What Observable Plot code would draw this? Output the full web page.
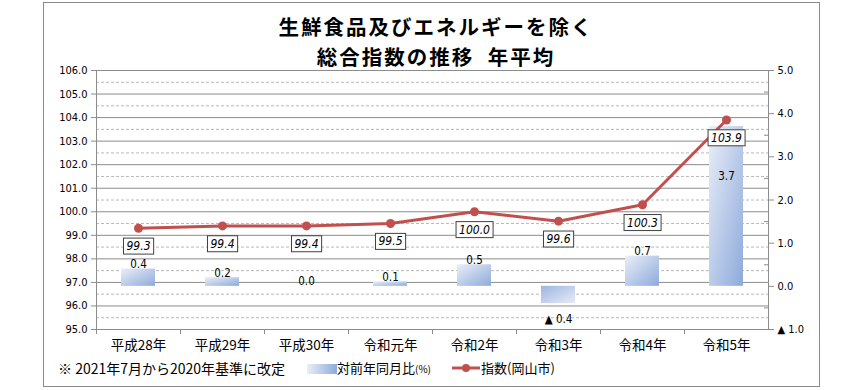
<!DOCTYPE html>
<html><head><meta charset="utf-8">
<script src="https://cdn.jsdelivr.net/npm/d3@7"></script>
<script src="https://cdn.jsdelivr.net/npm/@observablehq/plot@0.6"></script>
<style>
body{margin:0;background:#fff;}
#wrap{position:relative;width:862px;height:390px;overflow:hidden;font-family:"Noto Sans CJK JP",sans-serif;color:#000;}
#frame{position:absolute;left:43px;top:2px;width:777px;height:385px;border:1px solid #8a8a8a;box-sizing:border-box;}
.title{position:absolute;left:5px;width:862px;text-align:center;font-weight:700;font-size:20.5px;line-height:30px;letter-spacing:2px;white-space:nowrap;}
.layer{position:absolute;left:0;top:0;}
.lg{position:absolute;top:359px;font-size:13px;line-height:18px;white-space:nowrap;}
</style>
</head><body>
<div id="wrap">
  <div id="frame"></div>
  <div class="title" style="top:11px;">生鮮食品及びエネルギーを除く</div>
  <div class="title" style="top:41px;">総合指数の推移&nbsp;&nbsp;年平均</div>
  <div id="layerA" class="layer"></div>
  <div id="layerB" class="layer"></div>
  <div id="layerC" class="layer"></div>
  <div class="lg" style="left:58px;font-size:14px;">※ 2021年7月から2020年基準に改定</div>
  <div class="lg" style="left:307px;top:364px;width:30px;height:10px;background:linear-gradient(to right,#e9eef8,#8eaadb);"></div>
  <div class="lg" style="left:337px;">対前年同月比<span style="font-size:10px;">(%)</span></div>
  <svg class="lg" style="left:452px;top:362px;" width="28" height="12"><line x1="0" y1="6" x2="28" y2="6" stroke="#C0504D" stroke-width="3"/><circle cx="14" cy="6" r="4" fill="#C0504D"/></svg>
  <div class="lg" style="left:481px;">指数(岡山市)</div>
</div>
<script>
const categories = ["平成28年","平成29年","平成30年","令和元年","令和2年","令和3年","令和4年","令和5年"];
const indexValues = [99.3, 99.4, 99.4, 99.5, 100.0, 99.6, 100.3, 103.9];
const yoyValues = [0.4, 0.2, 0.0, 0.1, 0.5, -0.4, 0.7, 3.7];
const leftTicks = [95,96,97,98,99,100,101,102,103,104,105,106];
const rightTicks = [-1,0,1,2,3,4,5];

const data = categories.map((c,i)=>({cat:c, idx:indexValues[i], yoy:yoyValues[i]}));
const numFont = "'DejaVu Sans Condensed','DejaVu Sans',sans-serif";
const fmtR = d => d < 0 ? "▲ " + Math.abs(d).toFixed(1) : d.toFixed(1);

const W = 862, H = 390, ML = 96, MR = 94, MT = 70, MB = 61;
const bandW = (W - ML - MR) / categories.length;
const common = {
  width: W, height: H, marginLeft: ML, marginRight: MR, marginTop: MT, marginBottom: MB,
  style: {background: "transparent", overflow: "visible", color: "#000"}
};

// Layer A: gridlines and left axis
const A = Plot.plot({
  ...common,
  x: {domain: categories, padding: 0, axis: null},
  y: {domain: [95, 106], axis: null},
  marks: [
    Plot.ruleY(leftTicks.slice(0,-1).map(d => d + 0.5), {stroke: "#b8b8b8", strokeDasharray: "3,2", strokeWidth: 1}),
    Plot.ruleY(leftTicks, {stroke: "#8c8c8c", strokeWidth: 1}),
    Plot.axisY({anchor: "left", ticks: leftTicks, tickFormat: d => d.toFixed(1), tickSize: 5, tickPadding: 4,
      stroke: "#8c8c8c", fill: "#000", fontSize: 11, fontFamily: numFont, label: null}),
    Plot.frame({anchor: "left", stroke: "#8c8c8c"})
  ]
});
document.getElementById("layerA").append(A);

// Layer B: bars, bar labels, right axis, x axis
const B = Plot.plot({
  ...common,
  x: {domain: categories, padding: 0, axis: null},
  y: {domain: [-1, 5], axis: null},
  marks: [
    Plot.barY(data.filter(d => d.yoy >= 0), {x: "cat", y: "yoy", fill: "url(#gPos)", insetLeft: 25, insetRight: 25}),
    Plot.barY(data.filter(d => d.yoy < 0), {x: "cat", y: "yoy", fill: "url(#gNeg)", insetLeft: 25, insetRight: 25}),
    Plot.text(data.filter(d => d.yoy >= 0 && d.yoy < 3), {x: "cat", y: "yoy", text: d => fmtR(d.yoy), lineAnchor: "bottom", dy: -1, fontSize: 11.5, fontFamily: numFont}),
    Plot.text(data.filter(d => d.yoy >= 3), {x: "cat", y: "yoy", text: d => fmtR(d.yoy), dy: 50, fontSize: 11.5, fontFamily: numFont}),
    Plot.text(data.filter(d => d.yoy < 0), {x: "cat", y: "yoy", text: d => fmtR(d.yoy), dy: 16, fontSize: 11.5, fontFamily: numFont}),
    Plot.axisY({anchor: "right", ticks: rightTicks, tickFormat: fmtR, tickSize: 5, tickPadding: 4,
      stroke: "#8c8c8c", fill: "#000", fontSize: 11, fontFamily: numFont, label: null}),
    Plot.axisY({anchor: "right", ticks: rightTicks.slice(0,-1).map(d => d + 0.5), tickFormat: () => "", tickSize: -5,
      stroke: "#8c8c8c", label: null}),
    Plot.frame({anchor: "right", stroke: "#8c8c8c"}),
    Plot.axisX({anchor: "bottom", tickSize: 5, dx: -bandW/2, tickFormat: () => "", stroke: "#8c8c8c", label: null}),
    Plot.axisX({anchor: "bottom", tickSize: 0, tickPadding: 11, fontSize: 13.5, fontFamily: "'Noto Sans CJK JP',sans-serif", fill: "#000", label: null})
  ]
});
document.getElementById("layerB").append(B);
const defs = d3.select(B).insert("defs", ":first-child");
const gp = defs.append("linearGradient").attr("id", "gPos").attr("x1", 0).attr("y1", 0).attr("x2", 1).attr("y2", 1);
gp.append("stop").attr("offset", "0%").attr("stop-color", "#eaeff8");
gp.append("stop").attr("offset", "100%").attr("stop-color", "#8eaadb");
const gn = defs.append("linearGradient").attr("id", "gNeg").attr("x1", 0).attr("y1", 0).attr("x2", 1).attr("y2", 1);
gn.append("stop").attr("offset", "0%").attr("stop-color", "#9db5e0");
gn.append("stop").attr("offset", "100%").attr("stop-color", "#e6ecf7");

// Layer C: index line with boxed labels
const C = Plot.plot({
  ...common,
  x: {type: "point", domain: categories, padding: 0.5, axis: null},
  y: {domain: [95, 106], axis: null},
  marks: [
    Plot.line(data, {x: "cat", y: "idx", stroke: "#C0504D", strokeWidth: 3}),
    Plot.dot(data, {x: "cat", y: "idx", r: 4.5, fill: "#C0504D"}),
    Plot.text(data, {x: "cat", y: "idx", text: d => d.idx.toFixed(1), dy: 18, fontStyle: "italic", fontSize: 12, fontFamily: numFont, fill: "#000"})
  ]
});
document.getElementById("layerC").append(C);
d3.select(C).selectAll("g[aria-label='text'] text").each(function() {
  const bb = this.getBBox();
  const t = this.getAttribute("transform");
  const r = document.createElementNS("http://www.w3.org/2000/svg", "rect");
  r.setAttribute("x", bb.x - 3); r.setAttribute("y", bb.y - 1);
  r.setAttribute("width", bb.width + 6); r.setAttribute("height", bb.height + 2);
  r.setAttribute("fill", "#fff"); r.setAttribute("stroke", "#404040"); r.setAttribute("stroke-width", 1);
  if (t) r.setAttribute("transform", t);
  this.parentNode.insertBefore(r, this);
});
</script>
</body></html>
